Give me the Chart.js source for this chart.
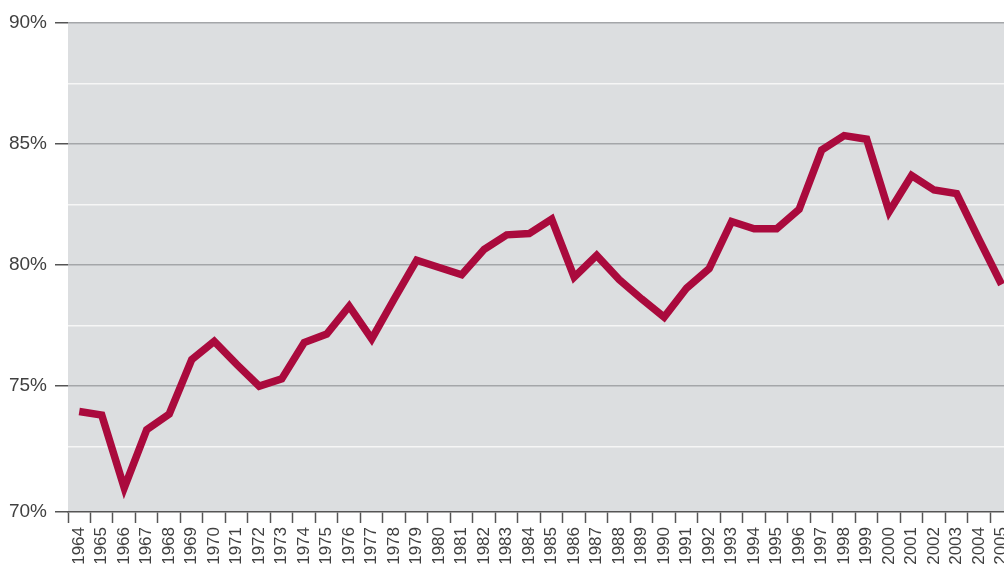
<!DOCTYPE html>
<html>
<head>
<meta charset="utf-8">
<script src="https://cdn.jsdelivr.net/npm/chart.js@4.4.1/dist/chart.umd.min.js"></script>
<style>
  html, body { margin: 0; padding: 0; background: #ffffff; overflow: hidden; }
  #wrap { position: absolute; left: 0; top: 0; width: 1026px; height: 564px; }
</style>
</head>
<body>
<div id="wrap"><canvas id="c" width="1026" height="564"></canvas></div>
<script>
const years = ['1964','1965','1966','1967','1968','1969','1970','1971','1972','1973','1974','1975','1976','1977','1978','1979','1980','1981','1982','1983','1984','1985','1986','1987','1988','1989','1990','1991','1992','1993','1994','1995','1996','1997','1998','1999','2000','2001','2002','2003','2004','2005'];
const rates = [73.95, 73.8, 70.8, 73.2, 73.85, 76.1, 76.85, 75.9, 75.0, 75.3, 76.8, 77.15, 78.3, 76.95, 78.6, 80.2, 79.9, 79.6, 80.65, 81.25, 81.3, 81.9, 79.5, 80.4, 79.4, 78.6, 77.85, 79.05, 79.85, 81.8, 81.5, 81.5, 82.3, 84.75, 85.35, 85.2, 82.2, 83.7, 83.1, 82.95, 81.05, 79.2];
const yTickValues = [69.8, 72.5, 75, 77.5, 80, 82.5, 85, 87.5, 90];
const yLabelValues = [69.8, 75, 80, 85, 90];
const yLabelTexts = ['70%', '75%', '80%', '85%', '90%'];

const plotBg = {
  id: 'plotBg',
  beforeDraw(chart) {
    const { ctx, chartArea: a } = chart;
    ctx.save();
    ctx.fillStyle = '#dcdee0';
    ctx.fillRect(a.left, a.top, a.right - a.left, a.bottom - a.top);
    ctx.restore();
  }
};

new Chart(document.getElementById('c'), {
  type: 'line',
  data: {
    labels: years,
    datasets: [{
      data: rates,
      borderColor: '#aa0a3d',
      borderWidth: 7.5,
      pointRadius: 0,
      pointHoverRadius: 0,
      tension: 0,
      fill: false,
      borderJoinStyle: 'miter',
      borderCapStyle: 'butt',
      clip: false
    }]
  },
  options: {
    responsive: false,
    animation: false,
    devicePixelRatio: 1,
    layout: { padding: { top: 23, left: 0, right: 0, bottom: 0 } },
    plugins: { legend: { display: false }, tooltip: { enabled: false } },
    scales: {
      x: {
        type: 'category',
        offset: true,
        afterFit(scale) { scale.height = 52; },
        grid: {
          offset: true,
          drawOnChartArea: false,
          drawTicks: true,
          tickLength: 11,
          tickColor: '#555555',
          tickWidth: 1.5
        },
        border: { display: true, color: '#555555', width: 1.5 },
        ticks: {
          autoSkip: false,
          minRotation: 90,
          maxRotation: 90,
          padding: 4,
          color: '#404040',
          font: { family: 'Liberation Sans, Arial, sans-serif', size: 17 }
        }
      },
      y: {
        type: 'linear',
        min: 69.8,
        max: 90,
        afterFit(scale) { scale.width = 68; },
        afterBuildTicks(scale) { scale.ticks = yTickValues.map(v => ({ value: v })); },
        border: { display: false },
        grid: {
          drawTicks: true,
          tickLength: 13,
          lineWidth: 1.5,
          tickWidth: 1.5,
          color(ctx) {
            const v = ctx.tick ? ctx.tick.value : null;
            if (v === 69.8) return 'rgba(0,0,0,0)';
            return yLabelValues.indexOf(v) >= 0 ? '#a4a6a9' : '#f6f6f6';
          },
          tickColor(ctx) {
            const v = ctx.tick ? ctx.tick.value : null;
            return yLabelValues.indexOf(v) >= 0 ? '#555555' : 'rgba(0,0,0,0)';
          }
        },
        ticks: {
          autoSkip: false,
          padding: 8,
          color: '#404040',
          font: { family: 'Liberation Sans, Arial, sans-serif', size: 19 },
          callback(v) {
            const i = yLabelValues.indexOf(v);
            return i >= 0 ? yLabelTexts[i] : '';
          }
        }
      }
    }
  },
  plugins: [plotBg]
});
</script>
</body>
</html>
